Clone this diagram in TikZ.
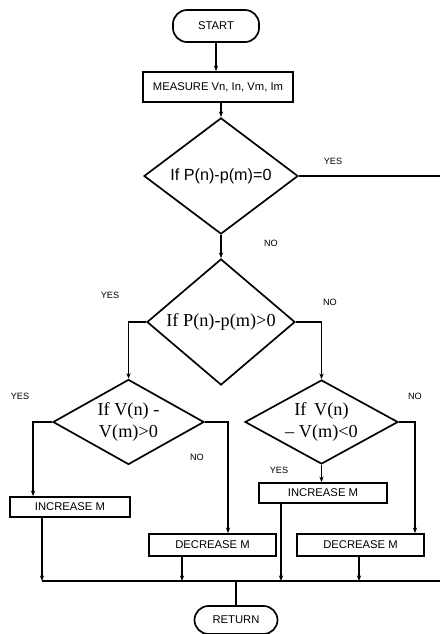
\documentclass[tikz,border=0pt]{standalone}
\usepackage{fontspec}
\setmainfont{Liberation Serif}
\setsansfont{Liberation Sans}
\usetikzlibrary{shapes.geometric,arrows.meta}
\begin{document}
\begin{tikzpicture}[x=0.025cm,y=-0.025cm,line width=1.2pt,
    arr/.style={-{Stealth[length=4pt,width=3pt]}},
    term/.style={draw,rounded corners=10pt,font=\sffamily\fontsize{8}{9}\selectfont},
    proc/.style={draw,inner sep=0pt,font=\sffamily\fontsize{8}{9}\selectfont},
    cond/.style={draw,diamond,inner sep=0pt,align=center,font=\fontsize{13}{16}\selectfont},
    lbl/.style={font=\sffamily\fontsize{6.5}{7}\selectfont}]
      \useasboundingbox (0,0) rectangle (440,634);

      \node[term,minimum width=2.15cm,minimum height=0.8cm] (start) at (216,26) {START};
      \node[proc,minimum width=3.75cm,minimum height=0.75cm] (meas) at (218,87) {MEASURE Vn, In, Vm, Im};
      \node[cond,minimum width=3.85cm,minimum height=2.875cm,font=\sffamily\fontsize{11.5}{13}\selectfont] (d1) at (221,176) {If P(n)-p(m)=0};
      \node[cond,minimum width=3.7cm,minimum height=2.875cm] (d2) at (221,322) {If P(n)-p(m)>0};
      \node[cond,aspect=1.8,minimum width=3.775cm,minimum height=2.125cm] (d3) at (128.5,422) {If V(n) -\\V(m)>0};
      \node[cond,aspect=1.8,minimum width=3.825cm,minimum height=2.1cm] (d4) at (321.5,422) {If\, V(n)\\-- V(m)<0};
      \node[proc,minimum width=3cm,minimum height=0.5cm] (incl) at (70,507) {INCREASE M};
      \node[proc,minimum width=3.2cm,minimum height=0.5cm] (incr) at (323,493) {INCREASE M};
      \node[proc,minimum width=3.175cm,minimum height=0.55cm] (decl) at (212.5,545) {DECREASE M};
      \node[proc,minimum width=3.175cm,minimum height=0.55cm] (decr) at (360.5,545) {DECREASE M};
      \node[term,minimum width=2.075cm,minimum height=0.7cm] (ret) at (236,620) {RETURN};

      \coordinate (yesend) at (440,176);
      \coordinate (t3) at (33,422);
      \coordinate (t4) at (228,422);
      \coordinate (t5) at (415,422);
      \coordinate (b1) at (42,581);
      \coordinate (b2) at (182,581);
      \coordinate (b3) at (281,581);
      \coordinate (b4) at (359,581);
      \coordinate (busend) at (440,581);

      \draw[arr] (start.south) -- (start.south |- meas.north);
      \draw[arr] (meas.south -| d1.north) -- (d1.north);
      \draw (d1.east) -- (yesend);
      \draw[arr] (d1.south) -- (d2.north);
      \draw[arr] (d2.west) -| (d3.north);
      \draw[arr] (d2.east) -| (d4.north);
      \draw[arr] (d3.west) -- (t3) -- (t3 |- incl.north);
      \draw[arr] (d3.east) -- (t4) -- (t4 |- decl.north);
      \draw[arr] (d4.east) -- (t5) -- (t5 |- decr.north);
      \draw[arr] (d4.south) -- (d4.south |- incr.north);

      \draw (b1) -- (busend);
      \draw[arr] (b1 |- incl.south) -- (b1);
      \draw[arr] (b2 |- decl.south) -- (b2);
      \draw[arr] (b3 |- incr.south) -- (b3);
      \draw[arr] (b4 |- decr.south) -- (b4);
      \draw (ret.north |- b1) -- (ret.north);

      \node[lbl] at (333,161) {YES};
      \node[lbl] at (271,243) {NO};
      \node[lbl] at (110,295) {YES};
      \node[lbl] at (330,302) {NO};
      \node[lbl] at (20,396) {YES};
      \node[lbl] at (415,396) {NO};
      \node[lbl] at (197,457) {NO};
      \node[lbl] at (279,470) {YES};
    \end{tikzpicture}
\end{document}
